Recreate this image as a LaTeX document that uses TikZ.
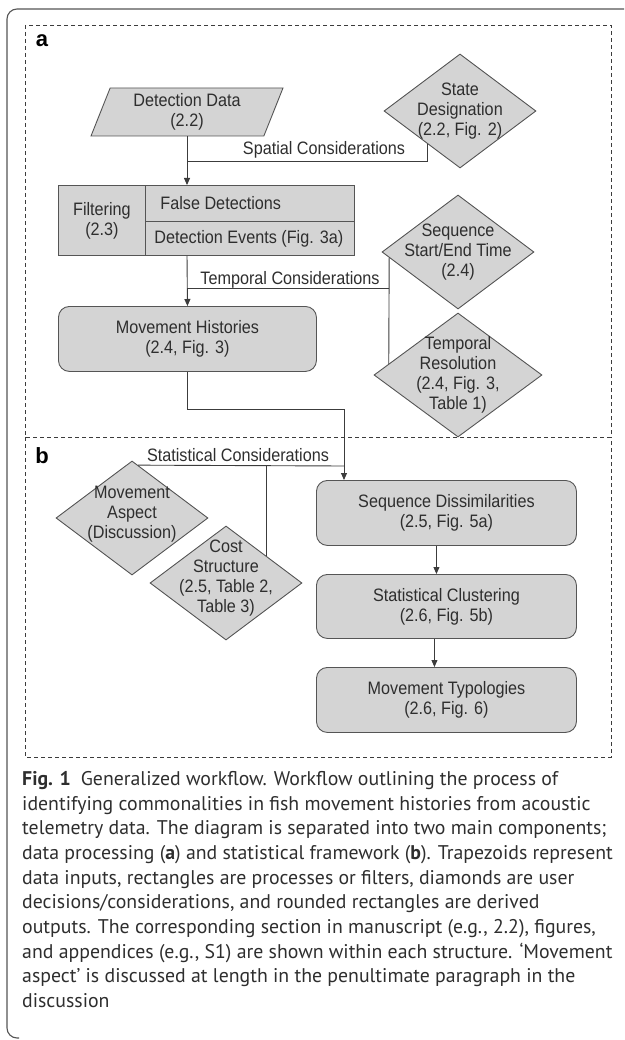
\documentclass[tikz,border=0pt]{standalone}
\usepackage{fontspec}
\usepackage{tikz}
\usetikzlibrary{shapes.geometric,arrows.meta,calc}

\newfontfamily\diagfont{Liberation Sans}[FakeStretch=0.9]
\newfontfamily\panelfont{Liberation Sans}
\newfontfamily\capfont{PT Sans}

\definecolor{boxfill}{HTML}{D4D4D4}
\definecolor{boxline}{HTML}{555555}
\definecolor{wireline}{HTML}{3C3C3C}
\definecolor{inktext}{HTML}{2E2E2E}

\tikzset{
  every node/.style={font=\diagfont\fontsize{18}{20}\selectfont, text=inktext},
  procbox/.style={draw=boxline, fill=boxfill, line width=0.9pt, inner sep=0pt, anchor=north west},
  outbox/.style={procbox, rounded corners=11pt, align=center},
  inputbox/.style={trapezium, trapezium left angle=62.5, trapezium right angle=117.5,
    trapezium stretches body, draw=boxline, fill=boxfill, line width=0.9pt,
    inner sep=0pt, minimum width=192pt, minimum height=48pt, align=center},
  decision/.style={diamond, draw=boxline, fill=boxfill, line width=0.9pt, inner sep=0pt,
    minimum width=152pt, minimum height=114pt},
  wire/.style={draw=wireline, line width=0.9pt},
  arr/.style={wire, -{Triangle[length=7pt, width=6pt]}},
  dashbox/.style={draw=wireline, line width=0.8pt, dash pattern=on 4pt off 3pt},
  panel/.style={font=\panelfont\bfseries\fontsize{22}{22}\selectfont, text=black, inner sep=0pt},
}

\begin{document}
\begin{tikzpicture}[x=1pt, y=-1pt]
  \useasboundingbox (0,0) rectangle (624,1040);

  % outer frame and the two panels
  \draw[draw=boxline, line width=1.1pt, rounded corners=10pt] (624,9) -- (7,9) -- (7,1038) -- (19,1038);
  \draw[dashbox] (25,25) rectangle (611,437);
  \draw[dashbox] (25,437) -- (25,757) -- (611,757) -- (611,437);
  \node[panel] (pa) at (42,41) {a};
  \node[panel] (pb) at (42,456) {b};

  % panel a: data processing
  \node[inputbox] (dd) at (187,112) {Detection Data\\(2.2)};
  \node[decision, label={[align=center]center:{State\\Designation\\(2.2, Fig. 2)}}] (sd) at (460,111) {};

  \node[procbox, minimum width=87pt, minimum height=70pt, align=center] (filt) at (58,185) {Filtering\\(2.3)};
  \node[procbox, minimum height=36pt, inner xsep=9pt] (falsedet) at (145,185) {\makebox[191pt][l]{\hspace*{6pt}False Detections}};
  \node[procbox, minimum height=34pt, inner xsep=9pt] (detev) at (145,221) {\makebox[191pt][l]{Detection Events (Fig. 3a)}};

  \node[decision, label={[align=center]center:{Sequence\\Start/End Time\\(2.4)}}] (sst) at (458,252) {};
  \node[decision, minimum width=168pt, minimum height=124pt,
    label={[align=center]center:{Temporal\\Resolution\\(2.4, Fig. 3,\\Table 1)}}] (tr) at (458,375) {};

  \node[outbox, minimum width=258pt, minimum height=65pt] (mh) at (58,306) {Movement Histories\\(2.4, Fig. 3)};

  % panel b: statistical framework
  \node[decision, label={[align=center, yshift=4pt]center:{Movement\\Aspect\\(Discussion)}}] (ma) at (132,518) {};
  \node[decision, label={[align=center, yshift=5pt]center:{Cost\\Structure\\(2.5, Table 2,\\Table 3)}}] (cost) at (226,583) {};

  \node[outbox, minimum width=260pt, minimum height=65pt] (sdis) at (316,480) {Sequence Dissimilarities\\(2.5, Fig. 5a)};
  \node[outbox, minimum width=260pt, minimum height=64pt] (sclu) at (316,574) {Statistical Clustering\\(2.6, Fig. 5b)};
  \node[outbox, minimum width=260pt, minimum height=65pt] (mt) at (316,667) {Movement Typologies\\(2.6, Fig. 6)};

  % spatial considerations
  \coordinate (spj) at (187,161);
  \draw[wire] ($(sd.west)!0.57!(sd.south)$) |- (spj);
  \draw[arr] (dd.south) -- (dd.south |- falsedet.north);
  \node[inner sep=0pt] (spl) at (324,150) {Spatial Considerations};

  % temporal considerations
  \coordinate (tpj) at (187,288);
  \coordinate (tv) at ($(sst.west)!0.1!(sst.south)$);
  \draw[wire] (tv) -- ($(tr.west)!0.18!(tr.north)$);
  \draw[wire] (tv |- tpj) -- (tpj);
  \draw[arr] (detev.south -| dd.south) -- (mh.north);
  \node[inner sep=0pt] (tpl) at (290,280) {Temporal Considerations};

  % statistical considerations
  \coordinate (stj) at (344,466);
  \coordinate (cv) at ($(cost.north)!0.526!(cost.east)$);
  \draw[wire] (mh.south) -- ++(0,38) -| (stj);
  \draw[wire] ($(ma.north)!0.08!(ma.east)$) -- (stj);
  \draw[wire] (cv |- stj) -- (cv);
  \draw[arr] (stj) -- (stj |- sdis.north);
  \node[inner sep=0pt] (stl) at (238,455) {Statistical Considerations};

  \draw[arr] ([xshift=-10pt]sdis.south) -- ([xshift=-10pt]sclu.north);
  \draw[arr] ([xshift=-12pt]sclu.south) -- ([xshift=-12pt]mt.north);

  % caption
  \node[anchor=north west, inner sep=0pt, align=left, text=inktext,
    font=\capfont\fontsize{19.8}{24.7}\selectfont] (cap) at (22,771) {%
    \textbf{Fig. 1}\enspace Generalized workflow. Workflow outlining the process of\\
    identifying commonalities in fish movement histories from acoustic\\
    telemetry data. The diagram is separated into two main components;\\
    data processing (\textbf{a}) and statistical framework (\textbf{b}). Trapezoids represent\\
    data inputs, rectangles are processes or filters, diamonds are user\\
    decisions/considerations, and rounded rectangles are derived\\
    outputs. The corresponding section in manuscript (e.g., 2.2), figures,\\
    and appendices (e.g., S1) are shown within each structure. ‘Movement\\
    aspect’ is discussed at length in the penultimate paragraph in the\\
    discussion};
\end{tikzpicture}
\end{document}
